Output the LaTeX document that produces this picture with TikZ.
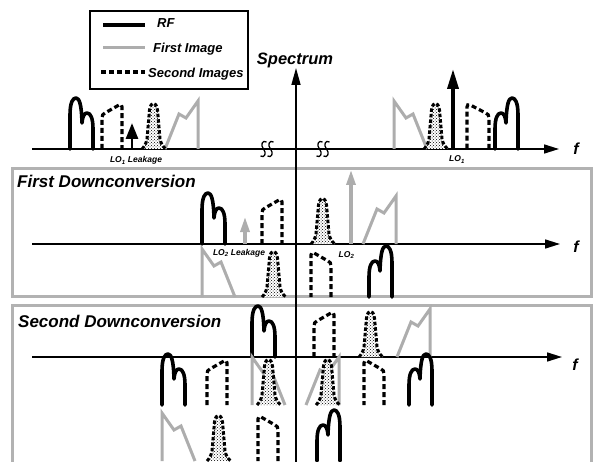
\documentclass[tikz,border=0pt]{standalone}
\usepackage{fontspec}
\setmainfont{Liberation Sans}
\usetikzlibrary{arrows.meta,patterns}
\definecolor{imggray}{gray}{0.68}
\definecolor{boxgray}{gray}{0.70}

\tikzset{
  rfline/.style={line width=3.6pt, black, line join=round, line cap=round},
  imgline/.style={line width=3pt, imggray, line join=miter},
  secline/.style={line width=3.2pt, black, dash pattern=on 5pt off 3pt},
  stipline/.style={line width=3pt, black, dash pattern=on 3.5pt off 2pt,
    preaction={fill=white}, preaction={pattern=crosshatch dots}},
  axisline/.style={line width=1.6pt, -{Triangle[width=9pt,length=15pt]}},
  panelbox/.style={line width=3pt, boxgray},
  loblack/.style={line width=3.5pt, -{Triangle[width=11pt,length=20pt]}},
  leakblack/.style={line width=2.8pt, -{Triangle[width=12pt,length=16pt]}},
  logray/.style={line width=3.2pt, imggray, -{Triangle[width=9pt,length=15pt]}},
  title/.style={font=\fontsize{17}{20}\selectfont\bfseries\itshape, anchor=base west, inner sep=0pt},
  legtext/.style={font=\fontsize{13}{15}\selectfont\bfseries\itshape, anchor=base west, inner sep=0pt},
  flabel/.style={font=\fontsize{16}{18}\selectfont\bfseries\itshape, anchor=base, inner sep=0pt},
  lolabel/.style={font=\fontsize{8.5}{10}\selectfont\bfseries\itshape, anchor=base, inner sep=0pt},
  % RF band: tall lobe on the left, base-left corner at the origin
  pics/rf/.style={code={
    \draw[rfline] (0,0) -- (0,-34) .. controls (0,-47) and (3,-51) .. (6,-51)
      .. controls (9.5,-51) and (11.5,-44) .. (12,-26)
      .. controls (12.5,-33) and (14.5,-36) .. (17,-36)
      .. controls (20.5,-36) and (23,-31) .. (23,-20) -- (23,0);
  }},
  % second image: low on the left, high on the right
  pics/secimg/.style={code={
    \draw[secline] (0,0) -- (0,-31) .. controls (0,-34) and (1,-35) .. (3,-36)
      -- (17,-44) .. controls (19,-45) and (20,-44) .. (20,-42) -- (20,0);
  }},
  % stippled second image
  pics/stip/.style={code={
    \draw[stipline] (0,0) .. controls (2,-2) and (4,-5) .. (5,-10)
      -- (7.5,-39) .. controls (8.5,-44.5) and (10,-45.5) .. (11.5,-45.5)
      .. controls (13,-45.5) and (14.5,-44.5) .. (15.5,-39)
      -- (18,-10) .. controls (19,-5) and (21,-2) .. (24,0);
  }},
  % first image: rising to the right, vertical edge on the right
  pics/firstimg/.style={code={
    \draw[imgline] (0,0) -- (14,-35) -- (21,-31) -- (33,-48) -- (33,0);
  }},
  % axis break mark
  pics/axbreak/.style={code={
    \foreach \dx in {-3.5,3.5}{
      \draw[line width=1.3pt] (\dx+3,-7) .. controls (\dx-1,-9.5) and (\dx-3.5,-4) .. (\dx,0)
        .. controls (\dx+3.5,4) and (\dx+1,9.5) .. (\dx-3,7);
    }
  }},
}

\begin{document}
\begin{tikzpicture}[x=1pt,y=-1pt]
\useasboundingbox (0,0) rectangle (593,462);
\clip (0,0) rectangle (593,462);

% panel frames
\draw[panelbox] (12.5,168.7) rectangle (591,296);
\draw[panelbox] (12.5,305.5) rectangle (591,480);

% frequency axes
\coordinate (a0s) at (32,149);  \coordinate (a0e) at (559,149);
\coordinate (a1s) at (32,244);  \coordinate (a1e) at (560,244);
\coordinate (a2s) at (32,357);  \coordinate (a2e) at (562,357);
\coordinate (vs) at (296,470);  \coordinate (ve) at (296,68);
\draw[axisline] (a0s) -- (a0e);
\draw[axisline] (a1s) -- (a1e);
\draw[axisline] (a2s) -- (a2e);
\draw[axisline,-{Triangle[width=9pt,length=17pt]}] (vs) -- (ve);

\node[flabel] (f0) at (576,155) {f};
\node[flabel] (f1) at (576,252) {f};
\node[flabel] (f2) at (575,370) {f};
\node[font=\fontsize{16.5}{19}\selectfont\bfseries\itshape, anchor=base, inner sep=0pt] (spec) at (295,65) {Spectrum};

% legend
\draw[line width=1.3pt, fill=white] (90,11) rectangle (248,89);
\draw[rfline, line cap=butt] (103,25) -- (145,25);
\draw[imgline] (103,48) -- (145,48);
\draw[secline] (101,72) -- (145,72);
\node[legtext] (lrf) at (157,28) {RF};
\node[legtext] (lfi) at (153,53) {First Image};
\node[legtext] (lsi) at (148,77.5) {Second Images};

% ---- RF spectrum ----
\pic at (70,149) {rf};
\pic at (102,149) {secimg};
\pic at (165,149) {firstimg};
\pic at (142,149) {stip};
\coordinate (lk1b) at (132,149); \coordinate (lk1t) at (132,123);
\draw[leakblack] (lk1b) -- (lk1t);
\node[lolabel] (lk1) at (136,163) {LO\textsubscript{1} Leakage};
\pic at (267,149) {axbreak};
\pic at (323,149) {axbreak};
\pic[xscale=-1] at (427,149) {firstimg};
\pic at (424,149) {stip};
\coordinate (lo1b) at (453,149); \coordinate (lo1t) at (453,69);
\draw[loblack] (lo1b) -- (lo1t);
\node[lolabel] (lo1) at (457,162) {LO\textsubscript{1}};
\pic[xscale=-1.1] at (489,149) {secimg};
\pic[xscale=-1] at (518,149) {rf};

% ---- first downconversion ----
\node[title] (t1) at (17,187) {First Downconversion};
\pic at (202,244) {rf};
\coordinate (lk2b) at (245,244); \coordinate (lk2t) at (245,217);
\draw[logray] (lk2b) -- (lk2t);
\node[lolabel] (lk2) at (239,255) {LO\textsubscript{2} Leakage};
\pic at (262,244) {secimg};
\pic at (311,244) {stip};
\coordinate (lo2b) at (351,244); \coordinate (lo2t) at (351,170);
\draw[logray] (lo2b) -- (lo2t);
\node[lolabel] (lo2) at (346.5,257) {LO\textsubscript{2}};
\pic at (363,244) {firstimg};
% lower row
\pic[xscale=-1] at (235,297) {firstimg};
\pic at (262,297) {stip};
\pic[xscale=-1] at (331,297) {secimg};
\pic[xscale=-1] at (392,297) {rf};

% ---- second downconversion ----
\node[title] (t2) at (18,327) {Second Downconversion};
\pic at (252,357) {rf};
\pic at (314,357) {secimg};
\pic at (359,357) {stip};
\pic at (397,357) {firstimg};
% row below the axis
\pic at (162,405) {rf};
\pic at (207,405) {secimg};
\pic[xscale=-1] at (285,405) {firstimg};
\pic at (257,405) {stip};
\pic at (306,405) {firstimg};
\pic at (316,405) {stip};
\pic[xscale=-1] at (384,405) {secimg};
\pic[xscale=-1] at (432,405) {rf};
% bottom row
\pic[xscale=-1] at (195,461) {firstimg};
\pic at (207,461) {stip};
\pic[xscale=-1] at (278,461) {secimg};
\pic[xscale=-1] at (340,461) {rf};
\end{tikzpicture}
\end{document}
